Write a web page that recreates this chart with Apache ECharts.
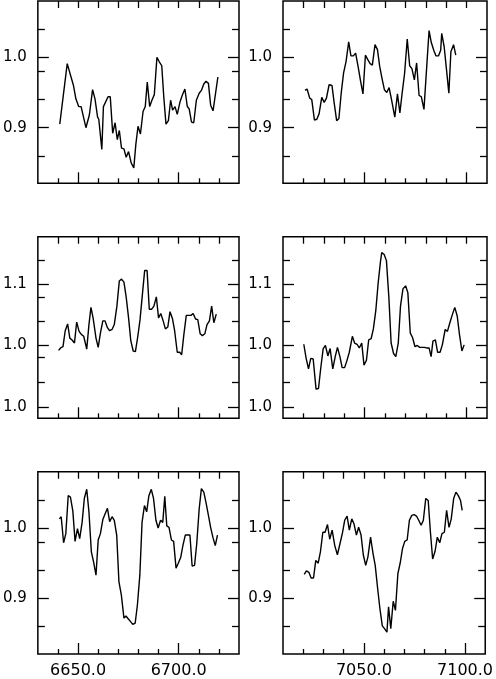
<!DOCTYPE html>
<html>
<head>
<meta charset="utf-8">
<script src="https://cdn.jsdelivr.net/npm/echarts@6/dist/echarts.min.js"></script>
<style>
  html, body { margin: 0; padding: 0; background: #fff; }
  #chart { width: 496px; height: 679px; }
</style>
</head>
<body>
<div id="chart"></div>
<script>
// spectra, [wavelength, relative flux]
const spec1 = [[6640.9,0.905],[6644.6,0.991],[6647.7,0.960],[6648.9,0.941],[6650.3,0.930],[6651.5,0.930],[6653.9,0.900],[6655.6,0.918],[6657.2,0.954],[6658.4,0.941],[6659.7,0.915],[6660.3,0.912],[6661.8,0.869],[6662.6,0.930],[6664.9,0.944],[6666.0,0.944],[6667.2,0.892],[6668.4,0.907],[6669.5,0.883],[6670.5,0.896],[6671.6,0.871],[6672.8,0.870],[6673.9,0.858],[6675.1,0.866],[6676.4,0.850],[6677.7,0.843],[6678.7,0.876],[6679.8,0.902],[6681.0,0.891],[6682.3,0.923],[6683.4,0.930],[6684.4,0.965],[6685.6,0.930],[6686.7,0.939],[6687.9,0.947],[6689.2,1.000],[6690.3,0.994],[6691.6,0.988],[6692.6,0.944],[6693.7,0.905],[6694.9,0.910],[6696.0,0.939],[6697.0,0.925],[6698.2,0.930],[6699.3,0.919],[6700.7,0.937],[6701.8,0.946],[6703.1,0.955],[6704.3,0.930],[6705.2,0.927],[6706.4,0.908],[6707.5,0.907],[6708.8,0.939],[6710.2,0.949],[6711.3,0.953],[6712.5,0.962],[6713.6,0.966],[6714.8,0.963],[6715.9,0.932],[6717.1,0.924],[6719.5,0.972]];
const spec2 = [[7020.8,0.953],[7021.8,0.955],[7023.1,0.942],[7024.1,0.940],[7025.4,0.911],[7026.6,0.912],[7027.7,0.920],[7029.0,0.943],[7030.2,0.936],[7031.3,0.942],[7032.6,0.961],[7034.0,0.960],[7035.1,0.935],[7036.3,0.910],[7037.4,0.913],[7038.6,0.951],[7039.7,0.978],[7040.9,0.994],[7042.2,1.022],[7043.3,1.002],[7044.5,1.002],[7045.6,1.006],[7046.8,0.987],[7048.1,0.965],[7049.2,0.948],[7050.4,1.003],[7051.5,0.997],[7052.7,0.991],[7053.8,0.989],[7055.1,1.018],[7056.3,1.011],[7057.4,0.987],[7058.6,0.969],[7059.7,0.954],[7060.9,0.950],[7062.0,0.957],[7063.2,0.940],[7064.8,0.915],[7066.1,0.948],[7067.3,0.921],[7068.4,0.949],[7069.6,0.977],[7070.9,1.026],[7072.1,0.988],[7073.2,0.984],[7074.4,0.968],[7075.5,0.992],[7076.7,0.946],[7077.8,0.944],[7079.1,0.926],[7080.3,0.980],[7081.6,1.038],[7082.7,1.021],[7083.9,1.010],[7085.0,1.002],[7086.2,1.002],[7087.3,1.010],[7087.8,1.034],[7089.0,1.015],[7090.1,0.984],[7091.3,0.949],[7092.3,1.008],[7093.6,1.018],[7094.7,1.003]];
const spec3 = [[6640.3,0.992],[6641.3,0.996],[6642.5,0.998],[6643.6,1.024],[6644.8,1.035],[6645.9,1.012],[6647.0,1.009],[6648.2,1.004],[6649.3,1.038],[6650.5,1.023],[6651.6,1.018],[6652.8,1.015],[6654.3,0.994],[6655.4,1.034],[6656.4,1.062],[6657.5,1.044],[6658.9,1.012],[6660.0,0.997],[6661.1,1.020],[6662.3,1.040],[6663.4,1.040],[6664.6,1.029],[6665.7,1.024],[6666.9,1.026],[6668.0,1.034],[6669.3,1.064],[6670.5,1.105],[6671.6,1.108],[6672.8,1.103],[6673.9,1.079],[6675.1,1.045],[6676.2,1.008],[6677.4,0.991],[6678.5,0.990],[6679.7,1.015],[6680.8,1.042],[6682.0,1.084],[6683.1,1.122],[6684.3,1.122],[6685.4,1.059],[6686.6,1.059],[6687.7,1.064],[6688.9,1.079],[6690.0,1.045],[6691.1,1.052],[6692.3,1.040],[6693.4,1.027],[6694.6,1.030],[6695.7,1.055],[6696.9,1.044],[6698.0,1.024],[6699.3,0.989],[6700.5,0.989],[6701.5,0.985],[6702.6,1.018],[6703.8,1.049],[6704.9,1.049],[6706.1,1.049],[6707.2,1.052],[6708.4,1.043],[6709.5,1.042],[6710.7,1.019],[6711.8,1.016],[6713.0,1.019],[6714.1,1.034],[6715.3,1.040],[6716.4,1.064],[6717.5,1.037],[6718.7,1.051]];
const spec4 = [[7020.2,1.002],[7021.3,0.980],[7022.5,0.962],[7023.6,0.979],[7024.8,0.978],[7026.2,0.929],[7027.4,0.930],[7028.5,0.963],[7029.7,0.995],[7030.8,1.000],[7032.0,0.983],[7033.1,0.995],[7034.4,0.962],[7035.6,0.982],[7036.7,0.997],[7037.9,0.982],[7039.0,0.964],[7040.2,0.964],[7041.3,0.975],[7042.5,0.989],[7044.0,1.015],[7045.1,1.004],[7046.3,1.002],[7047.4,0.996],[7048.6,1.004],[7049.7,0.968],[7050.9,0.976],[7052.0,1.009],[7053.2,1.011],[7054.3,1.027],[7055.5,1.057],[7056.6,1.100],[7057.8,1.137],[7058.4,1.151],[7059.6,1.148],[7060.7,1.138],[7061.9,1.078],[7063.0,1.004],[7064.2,0.987],[7065.3,0.982],[7066.5,1.004],[7067.6,1.064],[7068.8,1.092],[7070.1,1.097],[7071.2,1.086],[7072.4,1.020],[7073.5,1.013],[7074.7,0.998],[7075.8,1.000],[7077.0,0.997],[7078.1,0.997],[7079.3,0.997],[7080.4,0.996],[7081.6,0.996],[7082.6,0.982],[7083.5,1.007],[7084.7,1.009],[7085.8,0.989],[7087.0,0.989],[7088.1,1.001],[7089.5,1.026],[7090.6,1.023],[7091.8,1.037],[7092.9,1.049],[7094.2,1.062],[7095.4,1.048],[7096.5,1.018],[7097.7,0.991],[7098.8,1.001]];
const spec5 = [[6640.7,1.013],[6641.6,1.016],[6642.8,0.979],[6643.9,0.992],[6645.1,1.046],[6646.2,1.044],[6647.4,1.024],[6648.5,0.981],[6649.7,0.999],[6650.8,0.985],[6652.0,1.008],[6653.1,1.042],[6654.3,1.055],[6655.4,1.023],[6656.6,0.966],[6657.7,0.952],[6658.9,0.933],[6660.0,0.983],[6661.1,0.992],[6662.3,1.012],[6663.4,1.020],[6664.6,1.028],[6665.7,1.009],[6666.9,1.016],[6668.0,1.011],[6669.2,0.990],[6670.3,0.924],[6671.5,0.905],[6672.8,0.872],[6673.8,0.875],[6674.9,0.871],[6676.1,0.867],[6677.2,0.863],[6678.4,0.865],[6679.5,0.891],[6680.7,0.933],[6681.8,1.008],[6683.0,1.032],[6684.1,1.023],[6685.2,1.046],[6686.4,1.055],[6687.5,1.042],[6688.7,1.011],[6689.8,1.000],[6691.0,1.011],[6692.1,1.008],[6693.1,1.045],[6694.1,1.003],[6695.2,1.001],[6696.4,0.983],[6697.5,0.981],[6698.7,0.943],[6699.8,0.950],[6701.0,0.958],[6702.1,0.975],[6703.3,0.990],[6704.4,0.990],[6705.6,0.990],[6706.7,0.946],[6707.9,0.947],[6709.0,0.978],[6710.2,1.027],[6711.3,1.056],[6712.5,1.051],[6713.6,1.036],[6714.8,1.018],[6715.9,1.001],[6717.0,0.987],[6718.2,0.975],[6719.3,0.990]];
const spec6 = [[7020.5,0.934],[7021.6,0.939],[7022.8,0.937],[7023.9,0.929],[7025.1,0.929],[7026.2,0.954],[7027.4,0.950],[7028.5,0.966],[7029.7,0.994],[7030.8,0.994],[7032.0,1.005],[7033.1,0.984],[7034.3,0.997],[7035.6,0.975],[7036.9,0.962],[7038.2,0.978],[7039.4,0.993],[7040.5,1.011],[7041.7,1.017],[7042.8,0.997],[7044.0,1.013],[7045.1,1.006],[7046.3,0.990],[7047.4,1.001],[7048.6,0.990],[7049.7,0.962],[7050.9,0.947],[7052.0,0.959],[7053.3,0.987],[7054.5,0.964],[7055.6,0.947],[7056.8,0.914],[7057.9,0.886],[7059.1,0.861],[7060.2,0.857],[7061.4,0.852],[7062.2,0.888],[7063.3,0.857],[7064.5,0.896],[7065.6,0.883],[7066.8,0.935],[7068.0,0.951],[7069.1,0.971],[7070.2,0.981],[7071.4,0.983],[7072.5,1.011],[7073.7,1.018],[7074.8,1.019],[7076.0,1.017],[7077.1,1.011],[7078.3,1.004],[7079.4,1.011],[7080.6,1.042],[7081.8,1.039],[7082.9,0.994],[7084.0,0.956],[7085.2,0.967],[7086.3,0.987],[7087.5,0.979],[7088.6,0.992],[7089.8,0.994],[7090.9,1.025],[7092.1,1.001],[7093.2,1.013],[7094.4,1.042],[7095.5,1.051],[7096.7,1.046],[7097.8,1.039],[7098.6,1.025]];

// wavelength axes
const xRangeLeft = [6630, 6730];
const xRangeRight = [7010, 7110];
const xMinorLeft = [6640, 6660, 6670, 6680, 6690, 6710, 6720];
const xMajorLeft = [6650, 6700];
const xMinorRight = [7020, 7030, 7040, 7060, 7070, 7080, 7090];
const xMajorRight = [7050, 7100];
const xLabelLeft = ['6650.0', '6700.0'];
const xLabelRight = ['7050.0', '7100.0'];

// flux axes (top/bottom rows share one, middle row another)
const yRangeOuter = [0.821, 1.08];
const yMinorOuter = [1.04, 0.98, 0.94, 0.86];
const yMajorOuter = [1.0, 0.9];
const yLabelOuter = ['1.0', '0.9'];
const yRangeMid = [0.8816, 1.1769];
const yMinorMid = [1.138, 1.079, 1.04, 0.981, 0.941];
const yMajorMid = [1.1, 1.0, 0.9];
const yLabelMid = ['1.1', '1.0', '1.0'];

const spectra = [spec1, spec2, spec3, spec4, spec5, spec6];

const colLeft = [36, 283];
const colWidth = [203, 204];
const rowTop = [1, 236.7, 471.7];
const rowHeight = [182.3, 181.6, 182.3];

const FONT = 'DejaVu Sans';

function ticks(vals, len) {
  return { show: true, inside: true, length: len, customValues: vals,
    lineStyle: { color: '#000', width: 1.3 } };
}

const grids = [], xAxes = [], yAxes = [], series = [];

spectra.forEach((spec, i) => {
  const col = i % 2, row = Math.floor(i / 2);
  const xr = col ? xRangeRight : xRangeLeft;
  const xMinor = col ? xMinorRight : xMinorLeft;
  const xMajor = col ? xMajorRight : xMajorLeft;
  const xLab = col ? xLabelRight : xLabelLeft;
  const yr = row === 1 ? yRangeMid : yRangeOuter;
  const yMinor = row === 1 ? yMinorMid : yMinorOuter;
  const yMajor = row === 1 ? yMajorMid : yMajorOuter;
  const yLab = row === 1 ? yLabelMid : yLabelOuter;

  grids.push({
    left: colLeft[col], top: rowTop[row], width: colWidth[col], height: rowHeight[row],
    show: true, borderColor: '#000', borderWidth: 1.5, backgroundColor: 'transparent'
  });

  const xBase = xAxes.length;
  const xCommon = { gridIndex: i, type: 'value', min: xr[0], max: xr[1],
    axisLine: { show: false }, splitLine: { show: false } };
  xAxes.push(Object.assign({}, xCommon, { position: 'bottom',
    axisTick: ticks(xMinor, 5), axisLabel: { show: false } }));
  xAxes.push(Object.assign({}, xCommon, { position: 'bottom',
    axisTick: ticks(xMajor, 11),
    axisLabel: { show: row === 2, customValues: xMajor, margin: 9,
      color: '#000', fontFamily: FONT, fontSize: 16,
      formatter: v => xLab[xMajor.indexOf(v)] } }));
  xAxes.push(Object.assign({}, xCommon, { position: 'top',
    axisTick: ticks(xMinor.concat(xMajor), 7), axisLabel: { show: false } }));

  const yBase = yAxes.length;
  const yCommon = { gridIndex: i, type: 'value', min: yr[0], max: yr[1],
    axisLine: { show: false }, splitLine: { show: false } };
  yAxes.push(Object.assign({}, yCommon, { position: 'left',
    axisTick: ticks(yMinor, 7), axisLabel: { show: false } }));
  yAxes.push(Object.assign({}, yCommon, { position: 'left',
    axisTick: ticks(yMajor, 11),
    axisLabel: { show: true, customValues: yMajor, margin: 11,
      color: '#000', fontFamily: FONT, fontSize: 15,
      formatter: v => yLab[yMajor.indexOf(v)] } }));
  yAxes.push(Object.assign({}, yCommon, { position: 'right',
    axisTick: ticks(yMinor, 7), axisLabel: { show: false } }));
  yAxes.push(Object.assign({}, yCommon, { position: 'right',
    axisTick: ticks(yMajor, 11), axisLabel: { show: false } }));

  series.push({
    type: 'line', xAxisIndex: xBase, yAxisIndex: yBase, data: spec,
    showSymbol: false, symbol: 'none', smooth: false,
    lineStyle: { color: '#000', width: 1.4 }
  });
});

const chart = echarts.init(document.getElementById('chart'));
chart.setOption({
  animation: false,
  backgroundColor: '#fff',
  grid: grids,
  xAxis: xAxes,
  yAxis: yAxes,
  series: series
});
</script>
</body>
</html>
